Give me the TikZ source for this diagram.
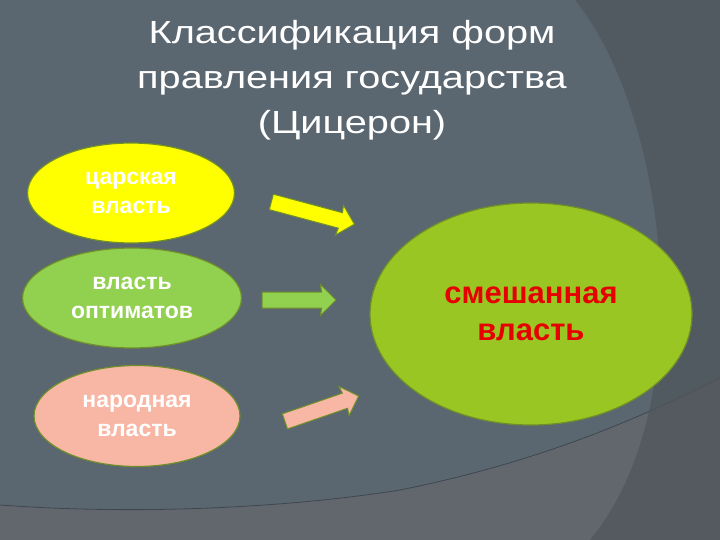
\documentclass[tikz,border=0pt]{standalone}
\usepackage{fontspec}
\setmainfont{Liberation Sans}
\newfontfamily\titlefont[FakeStretch=1.24]{Liberation Sans}
\usepackage{xcolor}
\usetikzlibrary{shapes,arrows,positioning,calc}

\definecolor{bgmain}{HTML}{5A6670}
\definecolor{bglow}{HTML}{62676E}
\definecolor{bgright}{HTML}{50565C}
\definecolor{rim}{HTML}{6F8F2A}
\definecolor{tsar}{HTML}{FFFF00}
\definecolor{optim}{HTML}{92D050}
\definecolor{narod}{HTML}{F8B6A4}
\definecolor{mixed}{HTML}{9AC623}
\definecolor{mixtext}{HTML}{E60000}

\begin{document}
\begin{tikzpicture}[x=1pt,y=-1pt,
    ell/.style={ellipse, draw=rim, line width=1.2pt, inner sep=0pt, text=white,
        align=center, font=\fontsize{23}{29}\selectfont\bfseries},
    arr/.style={single arrow, draw=rim, line width=1pt, inner xsep=0pt, inner ysep=7.5pt,
        single arrow head extend=7.5pt, single arrow head indent=1pt, minimum width=30pt}]

    % background of the slide
    \useasboundingbox (0,0) rectangle (720,540);
    \fill[bgmain] (0,0) rectangle (720,540);
    \fill[bglow] (0,505) .. controls (150,516) and (300,506) .. (400,490)
        .. controls (540,462) and (640,418) .. (720,378) -- (720,540) -- (0,540) -- cycle;
    \draw[bgmain!70!black, line width=0.8pt] (0,505) .. controls (150,516) and (300,506) .. (400,490)
        .. controls (540,462) and (640,418) .. (720,378);
    \fill[bgright, opacity=0.75] (575,0) .. controls (665,110) and (705,400) .. (590,540)
        -- (720,540) -- (720,0) -- cycle;

    % title
    \node[text=white, align=center, font=\titlefont\fontsize{32}{45}\selectfont] (title) at (352,80)
        {Классификация форм\\правления государства\\(Цицерон)};

    % the three forms and the mixed one
    \node[ell, fill=tsar, minimum width=207, minimum height=100] (tsar) at (131,193) {царская\\власть};
    \node[ell, fill=optim, minimum width=219, minimum height=100] (optim) at (132,298) {власть\\оптиматов};
    \node[ell, fill=narod, minimum width=206, minimum height=101] (narod) at (137,416) {народная\\власть};
    \node[ell, fill=mixed, text=mixtext, minimum width=322, minimum height=222,
        font=\fontsize{31}{37}\selectfont\bfseries] (mixed) at (531,314) {смешанная\\власть};

    % block arrows pointing to the mixed form
    \node[arr, fill=tsar, minimum height=86, rotate=-15] (a1) at (309,212) {};
    \node[arr, fill=optim, minimum height=74] (a2) at (295,300) {};
    \node[arr, fill=narod, minimum height=78, rotate=19] (a3) at (318,410) {};
\end{tikzpicture}
\end{document}
